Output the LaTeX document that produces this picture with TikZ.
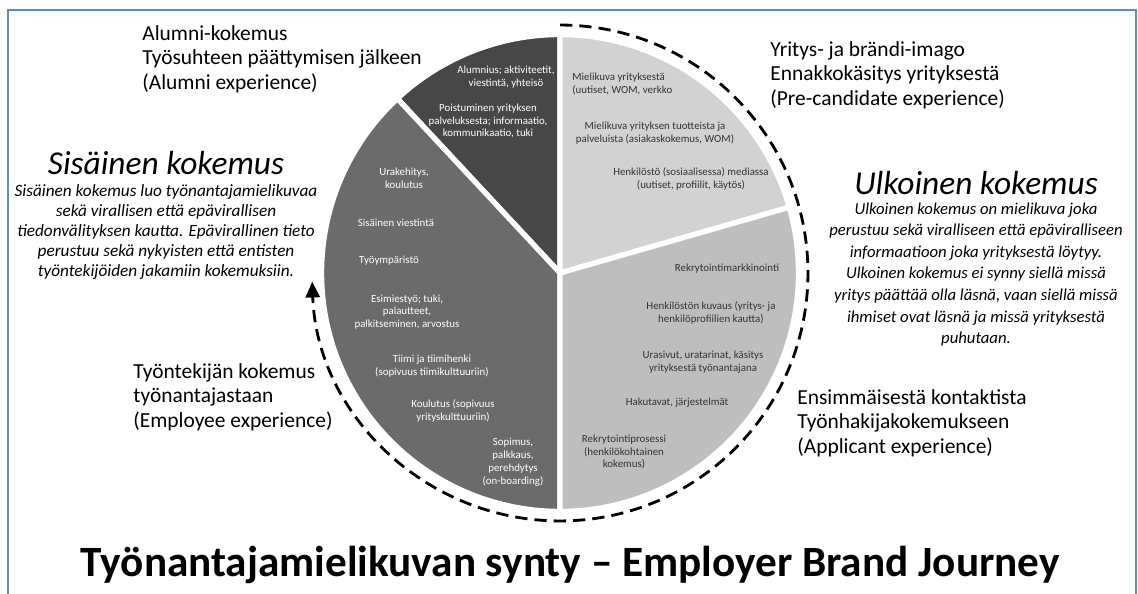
\documentclass[tikz,border=0pt]{standalone}
\usepackage{fontspec}
\setmainfont{Carlito}
\usetikzlibrary{arrows.meta, positioning}
\definecolor{FrameBlue}{HTML}{5B8BD0}
\definecolor{SegAlumni}{HTML}{474747}
\definecolor{SegEmployee}{HTML}{6B6B6B}
\definecolor{SegPre}{HTML}{D2D2D2}
\definecolor{SegApplicant}{HTML}{BEBEBE}
\definecolor{InkDark}{HTML}{333333}
\tikzset{
  seg/.style={draw=white, line width=3pt, line join=round},
  wtxt/.style={text=white, align=center, inner sep=0pt,
    font=\fontsize{6.2}{7.3}\selectfont},
  dtxt/.style={text=InkDark, align=center, inner sep=0pt,
    font=\fontsize{6.2}{7.3}\selectfont},
  phase/.style={anchor=west, align=left, inner sep=0pt,
    font=\fontsize{12.2}{14}\selectfont},
  head/.style={inner sep=0pt, font=\fontsize{19}{21}\selectfont\itshape},
  blurb/.style={align=center, inner sep=0pt,
    font=\fontsize{9.8}{11.4}\selectfont\itshape},
  journey/.style={-{Triangle[length=9pt,width=8pt]}, line width=1.6pt,
    dash pattern=on 7pt off 4pt},
}

\begin{document}
\begin{tikzpicture}[x=0.02cm, y=0.02cm]
    \useasboundingbox (0,0) rectangle (1138,594);
    \draw[FrameBlue, line width=0.9pt] (8,0) -- (8,584) -- (1136,584) -- (1136,0);
    \coordinate (C) at (560,321);
    \def\R{4.77cm}
    \filldraw[seg, fill=SegAlumni] (C) -- ++(90:\R) arc[start angle=90, end angle=133, radius=\R] -- cycle;
    \filldraw[seg, fill=SegEmployee] (C) -- ++(133:\R) arc[start angle=133, end angle=270, radius=\R] -- cycle;
    \filldraw[seg, fill=SegPre] (C) -- ++(16:\R) arc[start angle=16, end angle=90, radius=\R] -- cycle;
    \filldraw[seg, fill=SegApplicant] (C) -- ++(-90:\R) arc[start angle=-90, end angle=16, radius=\R] -- cycle;
    \draw[journey] (C) ++(90:4.96cm) arc[start angle=90, end angle=-178, radius=4.96cm];

    \node[wtxt] (al1) at (506,517) {Alumnius; aktiviteetit,\\viestintä, yhteisö};
    \node[wtxt] (al2) at (488,473) {Poistuminen yrityksen\\palveluksesta; informaatio,\\kommunikaatio, tuki};

    \node[wtxt] (em1) at (404,416) {Urakehitys,\\koulutus};
    \node[wtxt] (em2) at (396,371) {Sisäinen viestintä};
    \node[wtxt] (em3) at (389,333) {Työympäristö};
    \node[wtxt] (em4) at (407,282) {Esimiestyö; tuki,\\palautteet,\\palkitseminen, arvostus};
    \node[wtxt] (em5) at (432,228) {Tiimi ja tiimihenki\\(sopivuus tiimikulttuuriin)};
    \node[wtxt] (em6) at (453,183) {Koulutus (sopivuus\\yrityskulttuuriin)};
    \node[wtxt] (em7) at (513,132) {Sopimus,\\palkkaus,\\perehdytys\\(on-boarding)};

    \node[dtxt, anchor=west, align=left] (pr1) at (572,510) {Mielikuva yrityksestä\\(uutiset, WOM, verkko};
    \node[dtxt] (pr2) at (655,461) {Mielikuva yrityksen tuotteista ja\\palveluista (asiakaskokemus, WOM)};
    \node[dtxt] (pr3) at (691,415) {Henkilöstö (sosiaalisessa) mediassa\\(uutiset, profiilit, käytös)};

    \node[dtxt] (ap1) at (727,325) {Rekrytointimarkkinointi};
    \node[dtxt] (ap2) at (711,281) {Henkilöstön kuvaus (yritys- ja\\henkilöprofiilien kautta)};
    \node[dtxt] (ap3) at (703,232) {Urasivut, uratarinat, käsitys\\yrityksestä työnantajana};
    \node[dtxt] (ap4) at (677,191) {Hakutavat, järjestelmät};
    \node[dtxt] (ap5) at (624,142) {Rekrytointiprosessi\\(henkilökohtainen\\kokemus)};

    \node[phase] (alumni) at (142,535) {Alumni-kokemus\\Työsuhteen päättymisen jälkeen\\(Alumni experience)};
    \node[phase] (precand) at (770,519) {Yritys- ja brändi-imago\\Ennakkokäsitys yrityksestä\\(Pre-candidate experience)};
    \node[phase] (employee) at (133,197) {Työntekijän kokemus\\työnantajastaan\\(Employee experience)};
    \node[phase] (applicant) at (797,171) {Ensimmäisestä kontaktista\\Työnhakijakokemukseen\\(Applicant experience)};

    \node[head] (sisH) at (166,431) {Sisäinen kokemus};
    \node[blurb, below=5pt of sisH] (sisB) {Sisäinen kokemus luo työnantajamielikuvaa\\sekä virallisen että epävirallisen\\tiedonvälityksen kautta. Epävirallinen tieto\\perustuu sekä nykyisten että entisten\\työntekijöiden jakamiin kokemuksiin.};
    \node[head] (ulkH) at (976,411) {Ulkoinen kokemus};
    \node[blurb, font=\fontsize{9.5}{12.3}\selectfont\itshape, below=4pt of ulkH] (ulkB) {Ulkoinen kokemus on mielikuva joka\\perustuu sekä viralliseen että epäviralliseen\\informaatioon joka yrityksestä löytyy.\\Ulkoinen kokemus ei synny siellä missä\\yritys päättää olla läsnä, vaan siellä missä\\ihmiset ovat läsnä ja missä yrityksestä\\puhutaan.};

    \node[inner sep=0pt, font=\fontsize{24.6}{26}\selectfont\bfseries] (title) at (570,29) {Työnantajamielikuvan synty – Employer Brand Journey};
  \end{tikzpicture}
\end{document}
